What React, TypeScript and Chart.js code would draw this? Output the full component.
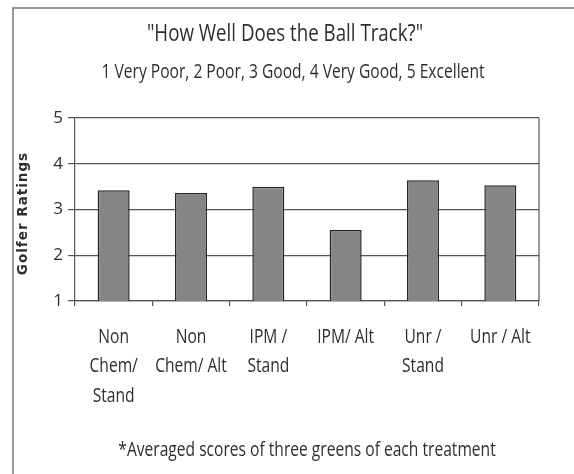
import React, { useEffect, useRef } from "react";
import { Chart, registerables } from "chart.js";

Chart.register(...registerables);

const categories: string[][] = [
  ["Non", "Chem/", "Stand"],
  ["Non", "Chem/ Alt"],
  ["IPM /", "Stand"],
  ["IPM/ Alt"],
  ["Unr /", "Stand"],
  ["Unr / Alt"],
];
const ratings: number[] = [3.42, 3.36, 3.5, 2.55, 3.64, 3.53];
const yTicks: number[] = [1, 2, 3, 4, 5];
const titleText = '"How Well Does the Ball Track?"';
const subtitleText = "1 Very Poor, 2 Poor, 3 Good, 4 Very Good, 5 Excellent";
const footnoteText = "*Averaged scores of three greens of each treatment";
const yAxisTitle = "Golfer Ratings";

const FONT = '"Open Sans", sans-serif';
const SX = 0.78; // horizontal condensing to mimic the narrow face
const TEXT = "#2e2e2e";
const LINE = "#555555";

function drawNarrow(ctx: CanvasRenderingContext2D, text: string, cx: number, cy: number, size: number) {
  ctx.save();
  ctx.translate(cx, cy);
  ctx.scale(SX, 1);
  ctx.font = `${size}px ${FONT}`;
  ctx.textAlign = "center";
  ctx.textBaseline = "middle";
  ctx.fillText(text, 0, 0);
  ctx.restore();
}

const framePlugin = {
  id: "frame",
  beforeDraw(chart: any) {
    const ctx = chart.ctx;
    ctx.save();
    ctx.fillStyle = "#ffffff";
    ctx.fillRect(0, 0, chart.width, chart.height);
    ctx.strokeStyle = "#777777";
    ctx.lineWidth = 1.5;
    ctx.beginPath();
    ctx.moveTo(13, chart.height);
    ctx.lineTo(13, 8);
    ctx.lineTo(chart.width, 8);
    ctx.stroke();
    ctx.restore();
  },
};

const textPlugin = {
  id: "texts",
  afterDraw(chart: any) {
    const ctx: CanvasRenderingContext2D = chart.ctx;
    const { left, right, top, bottom } = chart.chartArea;
    const xScale = chart.scales.x;
    ctx.save();
    ctx.fillStyle = TEXT;
    drawNarrow(ctx, titleText, 285, 34, 24);
    drawNarrow(ctx, subtitleText, 293, 72, 20);
    drawNarrow(ctx, footnoteText, (left + right) / 2, 450, 20);
    categories.forEach((lines, i) => {
      const x = xScale.getPixelForValue(i);
      lines.forEach((ln, k) => drawNarrow(ctx, ln, x, bottom + 36 + k * 29.5, 20));
    });
    // y axis title
    ctx.save();
    ctx.translate(23, (top + bottom) / 2 + 4);
    ctx.rotate(-Math.PI / 2);
    (ctx as any).letterSpacing = "1px";
    ctx.font = `bold 13.5px "DejaVu Sans", sans-serif`;
    ctx.textAlign = "center";
    ctx.textBaseline = "middle";
    ctx.fillText(yAxisTitle, 0, 0);
    ctx.restore();
    // plot right border
    ctx.strokeStyle = LINE;
    ctx.lineWidth = 1.2;
    ctx.beginPath();
    ctx.moveTo(right, top);
    ctx.lineTo(right, bottom);
    ctx.stroke();
    ctx.restore();
  },
};

export default function App() {
  const ref = useRef<HTMLCanvasElement | null>(null);
  useEffect(() => {
    if (!ref.current) return;
    const chart = new Chart(ref.current, {
      type: "bar",
      data: {
        labels: categories.map((c) => c.join(" ")),
        datasets: [
          {
            data: ratings,
            backgroundColor: "#858585",
            borderColor: "#262626",
            borderWidth: 1.5,
            barPercentage: 0.414,
            categoryPercentage: 1,
          },
        ],
      },
      options: {
        animation: false,
        responsive: false,
        layout: { padding: { left: 14, right: 35, top: 118, bottom: 0 } },
        plugins: {
          legend: { display: false },
          tooltip: { enabled: false },
          title: { display: false },
        },
        scales: {
          x: {
            afterFit: (s: any) => {
              s.height = 173;
            },
            grid: {
              drawOnChartArea: false,
              drawTicks: true,
              tickLength: 5,
              color: LINE,
              lineWidth: 1.2,
              offset: true,
            },
            border: { display: true, color: LINE, width: 1.2 },
            ticks: { display: false, autoSkip: false, maxRotation: 0 },
          },
          y: {
            min: 1,
            max: 5,
            afterFit: (s: any) => {
              s.width = 61;
            },
            grid: { color: LINE, lineWidth: 1.2, tickLength: 7, drawTicks: true },
            border: { display: true, color: LINE, width: 1.2 },
            ticks: {
              stepSize: 1,
              padding: 5,
              color: TEXT,
              font: { family: FONT, size: 17 },
              callback: (v: any) => (yTicks.includes(Number(v)) ? String(v) : ""),
            },
          },
        },
      },
      plugins: [framePlugin, textPlugin],
    });
    return () => chart.destroy();
  }, []);
  return (
    <div style={{ position: "fixed", left: 0, top: 0, width: 574, height: 474, background: "#fff" }}>
      <canvas ref={ref} width={574} height={474} style={{ display: "block", width: 574, height: 474 }} />
    </div>
  );
}
